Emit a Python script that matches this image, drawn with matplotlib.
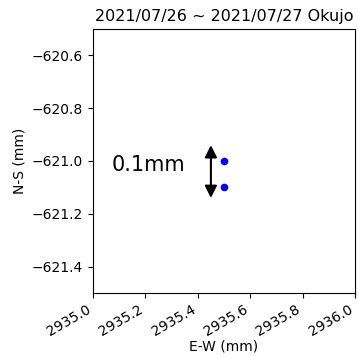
import matplotlib
matplotlib.use("Agg")
import matplotlib.pyplot as plt

title = "2021/07/26 ~ 2021/07/27 Okujo"
ew = [2935.5, 2935.5]
ns = [-621.0, -621.1]
scale_label = "0.1mm"
arrow_x = 2935.45
arrow_y = [-620.94, -621.14]
xlim = (2935.0, 2936.0)
ylim = (-621.5, -620.5)

fig = plt.figure(figsize=(3.58, 3.56), dpi=100)
ax = fig.add_axes([93/358, 1-293/356, 262/358, 264/356])
ax.plot(ew, ns, 'o', color='blue', markersize=4.5, linestyle='none')
ax.annotate('', xy=(arrow_x, arrow_y[1]), xytext=(arrow_x, arrow_y[0]),
            arrowprops=dict(arrowstyle='<|-|>', color='black', lw=1.5,
                            mutation_scale=18, shrinkA=0, shrinkB=0))
ax.text(2935.21, -621.015, scale_label, fontsize=15, ha='center', va='center')
ax.set_xlim(*xlim)
ax.set_ylim(*ylim)
ax.set_xticks([2935.0, 2935.2, 2935.4, 2935.6, 2935.8, 2936.0])
ax.set_yticks([-620.6, -620.8, -621.0, -621.2, -621.4])
ax.ticklabel_format(useOffset=False)
plt.setp(ax.get_xticklabels(), rotation=30, ha='right')
ax.set_xlabel("E-W (mm)", labelpad=0)
ax.set_ylabel("N-S (mm)")
ax.set_title(title, fontsize=11.5)
fig.savefig("out.png", dpi=100)
